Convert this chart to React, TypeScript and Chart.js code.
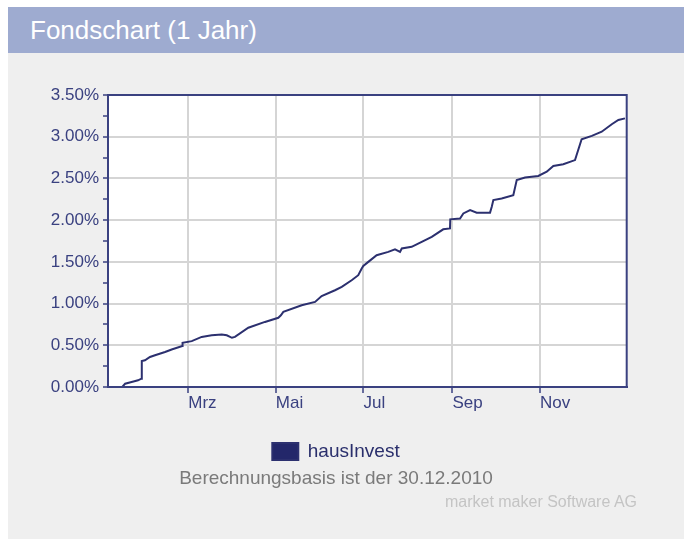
import React, { useEffect, useRef } from 'react';
import { Chart, registerables } from 'chart.js';

Chart.register(...registerables);

// ---------- data ----------
const seriesName = 'hausInvest';
// day of year 2011 (0 = 1 Jan)
const dayOfYear = [
  13, 15, 19.5, 24, 26.3, 26.6, 28.8, 32.3, 35.8, 42.8, 47.4, 54.8, 55.0, 61.4, 68.3, 75.3,
  82.3, 85.8, 89.4, 91.5, 100.8, 112.4, 121.7, 123.5, 125.2, 138.0, 147.3, 151.9, 161.2,
  165.9, 172.8, 177.4, 179.8, 180.9, 184.4, 190.2, 198.3, 203.0, 206.5, 207.7, 214.6,
  221.6, 228.6, 236.6, 241.3, 241.5, 248.3, 250.6, 255.3, 259.9, 269.2, 270.4, 271.5,
  277.3, 285.4, 287.8, 293.6, 302.8, 308.7, 313.3, 320.2, 328.4, 333.0, 340.1, 347.0,
  354.0, 358.6, 363.2,
];
// performance in %
const performance = [
  0.0, 0.04, 0.06, 0.08, 0.1, 0.31, 0.32, 0.36, 0.38, 0.42, 0.45, 0.49, 0.53, 0.55, 0.6, 0.62,
  0.63, 0.62, 0.59, 0.6, 0.71, 0.78, 0.83, 0.86, 0.9, 0.98, 1.02, 1.09, 1.16,
  1.2, 1.28, 1.34, 1.42, 1.45, 1.5, 1.58, 1.62, 1.65, 1.62, 1.66, 1.68,
  1.74, 1.8, 1.89, 1.9, 2.01, 2.02, 2.08, 2.12, 2.09, 2.09, 2.16, 2.24,
  2.26, 2.3, 2.48, 2.51, 2.53, 2.58, 2.65, 2.67, 2.72, 2.97, 3.01, 3.06,
  3.15, 3.2, 3.22,
];
const monthTickDays = [59, 120, 181, 243, 304];
const monthTickLabels = ['Mrz', 'Mai', 'Jul', 'Sep', 'Nov'];
const xMin = 3.06;
const xMax = 364.4;
const yMin = 0;
const yMax = 3.5;
const yMinorStep = 0.25;
const yMajorStep = 0.5;

const titleText = 'Fondschart (1 Jahr)';
const captionText = 'Berechnungsbasis ist der 30.12.2010';
const creditText = 'market maker Software AG';

// ---------- styles ----------
const FONT = "'Liberation Sans', Arial, Helvetica, sans-serif";
const NAVY = '#3a4180';
const LINE = '#2c306f';
const LEGEND_BOX = '#23276a';
const GRID = '#d5d5d5';
const HEADER_BG = '#9eabd0';
const PANEL_BG = '#efefef';

const isMajor = (v: number) => Math.abs(v / yMajorStep - Math.round(v / yMajorStep)) < 1e-6;

export default function App() {
  const ref = useRef<HTMLCanvasElement>(null);

  useEffect(() => {
    if (!ref.current) return;
    const frame = {
      id: 'frame',
      beforeDraw(chart: any) {
        const { ctx, chartArea: a } = chart;
        ctx.save();
        ctx.fillStyle = '#ffffff';
        ctx.fillRect(a.left, a.top, a.right - a.left, a.bottom - a.top);
        ctx.restore();
      },
      afterDatasetsDraw(chart: any) {
        const { ctx, chartArea: a } = chart;
        ctx.save();
        ctx.strokeStyle = NAVY;
        ctx.lineWidth = 2;
        ctx.strokeRect(a.left, a.top, a.right - a.left, a.bottom - a.top);
        ctx.restore();
      },
    };

    const chart = new Chart(ref.current, {
      type: 'line',
      data: {
        datasets: [
          {
            label: seriesName,
            data: dayOfYear.map((d, i) => ({ x: d, y: performance[i] })),
            borderColor: LINE,
            backgroundColor: LEGEND_BOX,
            borderWidth: 2,
            pointRadius: 0,
            tension: 0,
            fill: false,
          },
        ],
      },
      options: {
        animation: false,
        responsive: false,
        maintainAspectRatio: false,
        layout: { padding: { top: 40, left: 37.3, right: 37.3, bottom: 0 } },
        plugins: {
          tooltip: { enabled: false },
          legend: {
            position: 'bottom',
            labels: {
              boxWidth: 26,
              boxHeight: 17,
              padding: 10,
              color: '#2a2f6c',
              font: { family: FONT, size: 19 },
            },
          },
        },
        scales: {
          x: {
            type: 'linear',
            min: xMin,
            max: xMax,
            afterBuildTicks: (s: any) => {
              s.ticks = monthTickDays.map((v) => ({ value: v }));
            },
            afterFit: (s: any) => {
              s.height = 45;
            },
            ticks: {
              autoSkip: false,
              maxRotation: 0,
              align: 'start',
              padding: 0,
              color: NAVY,
              font: { family: FONT, size: 17 },
              callback: (v: any) => {
                const i = monthTickDays.indexOf(Number(v));
                return i >= 0 ? monthTickLabels[i] : '';
              },
            },
            grid: {
              color: GRID,
              lineWidth: 2,
              tickLength: 6,
              tickColor: NAVY,
              tickWidth: 1.5,
            },
            border: { color: NAVY, width: 2 },
          },
          y: {
            min: yMin,
            max: yMax,
            afterFit: (s: any) => {
              s.width = 62.7;
            },
            ticks: {
              stepSize: yMinorStep,
              autoSkip: false,
              padding: 4,
              color: NAVY,
              font: { family: FONT, size: 17 },
              callback: (v: any) => (isMajor(Number(v)) ? Number(v).toFixed(2) + '%' : ''),
            },
            grid: {
              color: (c: any) => (c.tick && isMajor(c.tick.value) ? GRID : 'rgba(0,0,0,0)'),
              lineWidth: 2,
              tickLength: 5,
              tickColor: NAVY,
              tickWidth: 1.5,
            },
            border: { color: NAVY, width: 2 },
          },
        },
      } as any,
      plugins: [frame],
    });
    return () => chart.destroy();
  }, []);

  return (
    <div style={{ position: 'absolute', left: 0, top: 0, width: 684, height: 539, background: '#fff', overflow: 'hidden' }}>
      <div
        style={{
          position: 'absolute',
          left: 8,
          top: 7,
          width: 676,
          height: 46,
          background: HEADER_BG,
        }}
      >
        <span
          style={{
            position: 'absolute',
            left: 22,
            top: 0,
            lineHeight: '46px',
            fontSize: 26,
            color: '#ffffff',
            fontFamily: FONT,
            whiteSpace: 'nowrap',
          }}
        >
          {titleText}
        </span>
      </div>
      <div style={{ position: 'absolute', left: 8, top: 53, width: 676, height: 486, background: PANEL_BG }} />
      <canvas
        ref={ref}
        width={656}
        height={416}
        style={{ position: 'absolute', left: 8, top: 55, width: 656, height: 416 }}
      />
      <div
        style={{
          position: 'absolute',
          left: 8,
          top: 467,
          width: 656,
          textAlign: 'center',
          fontFamily: FONT,
          fontSize: 19,
          lineHeight: '22px',
          color: '#7a7a7a',
          whiteSpace: 'nowrap',
        }}
      >
        {captionText}
      </div>
      <div
        style={{
          position: 'absolute',
          left: 8,
          top: 492,
          width: 629,
          textAlign: 'right',
          fontFamily: FONT,
          fontSize: 16,
          lineHeight: '20px',
          color: '#c4c4c4',
          whiteSpace: 'nowrap',
        }}
      >
        {creditText}
      </div>
    </div>
  );
}
